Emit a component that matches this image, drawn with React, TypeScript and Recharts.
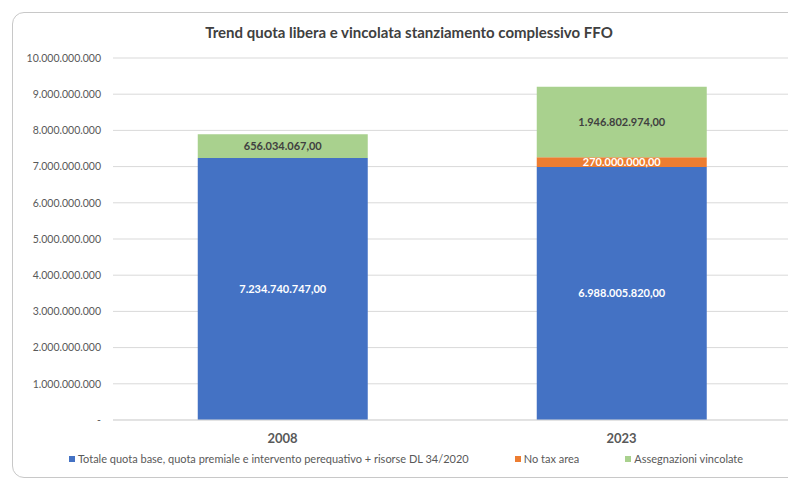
import React from 'react';
import { BarChart, Bar, XAxis, YAxis, CartesianGrid, Legend, LabelList } from 'recharts';

const years = ['2008', '2023'];
const quotaBase = [7234740747, 6988005820];
const noTaxArea = [null, 270000000];
const assegnazioni = [656034067, 1946802974];
const yTicks = [0, 1e9, 2e9, 3e9, 4e9, 5e9, 6e9, 7e9, 8e9, 9e9, 1e10];

const series = [
  { key: 'base', name: 'Totale quota base, quota premiale e intervento perequativo + risorse DL 34/2020', color: '#4472C4', label: '#ffffff' },
  { key: 'noTax', name: 'No tax area', color: '#ED7D31', label: '#ffffff' },
  { key: 'vinc', name: 'Assegnazioni vincolate', color: '#A9D18E', label: '#404040' },
];

const data = years.map((year, i) => ({
  year,
  base: quotaBase[i],
  noTax: noTaxArea[i],
  vinc: assegnazioni[i],
}));

const dots = (n: number) => Math.round(n).toString().replace(/\B(?=(\d{3})+(?!\d))/g, '.');
const fmtTick = (v: number) => (v === 0 ? '-' : dots(v));
const fmtLabel = (v: any) => (v ? dots(v) + ',00' : '');

const FONT = 'Lato, "Open Sans", sans-serif';

const renderLegend = () => (
  <div style={{ display: 'flex', justifyContent: 'center', gap: 46, fontSize: 11, color: '#595959', fontFamily: FONT, paddingLeft: 12 }}>
    {series.map((s) => (
      <div key={s.key} style={{ display: 'flex', alignItems: 'center' }}>
        <span style={{ width: 6, height: 6, background: s.color, marginRight: 3, display: 'inline-block' }} />
        <span>{s.name}</span>
      </div>
    ))}
  </div>
);

export default function App() {
  return (
    <div style={{ position: 'absolute', left: 0, top: 0, width: 788, height: 482, overflow: 'hidden', background: '#fff', fontFamily: FONT }}>
      <div style={{ position: 'absolute', left: 12, top: 12, width: 800, height: 464, border: '1px solid #c8c8c8', borderRadius: 12 }} />
      <div style={{ position: 'absolute', left: 0, top: 23, width: 818, textAlign: 'center', fontSize: 15, fontWeight: 700, color: '#404040' }}>
        Trend quota libera e vincolata stanziamento complessivo FFO
      </div>
      <div style={{ position: 'absolute', left: 0, top: 0 }}>
        <BarChart width={800} height={482} data={data} margin={{ top: 58, right: 9, bottom: 32, left: 0 }} barCategoryGap="25%">
          <CartesianGrid vertical={false} stroke="#d9d9d9" />
          <XAxis
            dataKey="year"
            height={30}
            axisLine={{ stroke: '#d9d9d9' }}
            tickLine={false}
            tickMargin={8}
            tick={{ fill: '#595959', fontSize: 13, fontWeight: 700, fontFamily: FONT }}
          />
          <YAxis
            width={113}
            domain={[0, 1e10]}
            ticks={yTicks}
            tickFormatter={fmtTick}
            axisLine={false}
            tickLine={false}
            tickSize={10}
            tick={{ fill: '#595959', fontSize: 10.5, fontFamily: FONT }}
          />
          <Legend verticalAlign="middle" content={renderLegend} wrapperStyle={{ top: 452, left: 0, width: 800 }} />
          {series.map((s) => (
            <Bar key={s.key} dataKey={s.key} name={s.name} stackId="a" fill={s.color} isAnimationActive={false}>
              <LabelList
                dataKey={s.key}
                position="center"
                formatter={fmtLabel}
                style={{ fill: s.label, fontSize: 11, fontWeight: 700, fontFamily: FONT }}
              />
            </Bar>
          ))}
        </BarChart>
      </div>
    </div>
  );
}
